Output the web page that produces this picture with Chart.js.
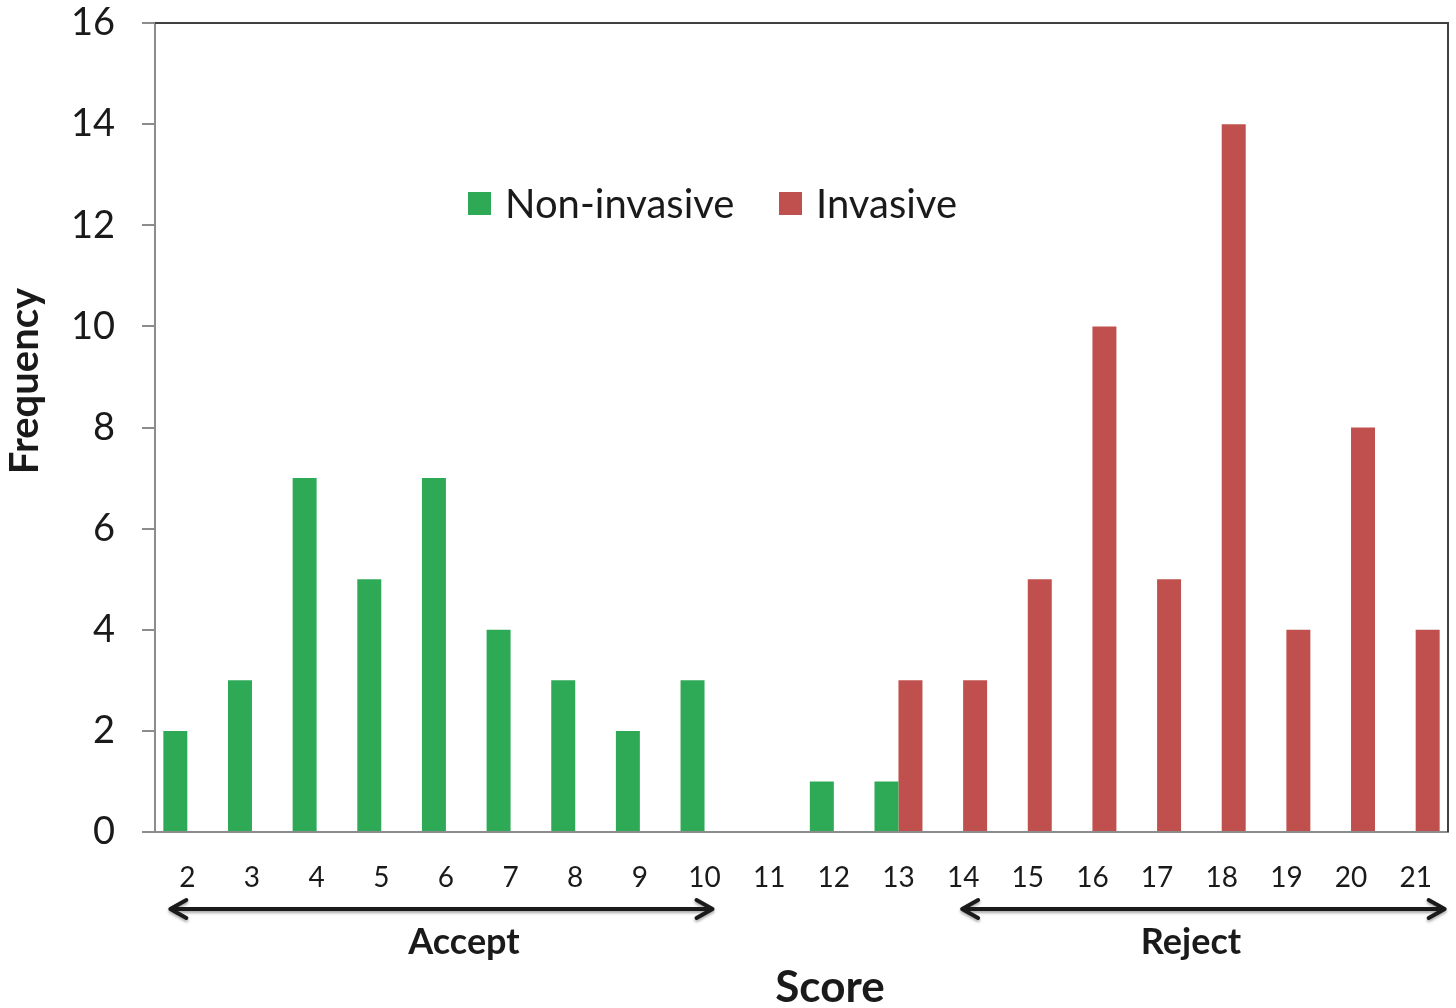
<!DOCTYPE html>
<html>
<head>
<meta charset="utf-8">
<script src="https://cdn.jsdelivr.net/npm/chart.js@4/dist/chart.umd.min.js"></script>
<style>
  html, body { margin: 0; padding: 0; background: #fff; }
  #wrap { width: 1456px; height: 1008px; }
</style>
</head>
<body>
<div id="wrap"><canvas id="c" width="1456" height="1008"></canvas></div>
<script>
const scores = ['2', '3', '4', '5', '6', '7', '8', '9', '10', '11', '12', '13', '14', '15', '16', '17', '18', '19', '20', '21'];
const nonInvasive = [2, 3, 7, 5, 7, 4, 3, 2, 3, 0, 1, 1, 0, 0, 0, 0, 0, 0, 0, 0];
const invasive = [0, 0, 0, 0, 0, 0, 0, 0, 0, 0, 0, 3, 3, 5, 10, 5, 14, 4, 8, 4];
const yTicks = [0, 2, 4, 6, 8, 10, 12, 14, 16];

const green = '#2eaa57';
const red = '#c0504d';
const fontFam = 'Lato, "Open Sans", sans-serif';

// arrows, region labels, legend and axis titles
const extras = {
    id: 'extras',
    afterDraw(chart) {
        const ctx = chart.ctx;
        const x = chart.scales.x;
        const area = chart.chartArea;
        ctx.save();

        // dark frame on top and right
        ctx.strokeStyle = '#404040';
        ctx.lineWidth = 2;
        ctx.beginPath();
        ctx.moveTo(area.left, area.top);
        ctx.lineTo(area.right, area.top);
        ctx.lineTo(area.right, area.bottom);
        ctx.stroke();

        function arrow(x1, x2, y) {
            ctx.save();
            ctx.shadowColor = 'rgba(0,0,0,0.35)';
            ctx.shadowOffsetY = 2;
            ctx.shadowBlur = 3;
            ctx.strokeStyle = '#1a1a1a';
            ctx.lineWidth = 4;
            ctx.lineCap = 'round';
            ctx.lineJoin = 'round';
            ctx.beginPath();
            ctx.moveTo(x1, y);
            ctx.lineTo(x2, y);
            ctx.moveTo(x1 + 16, y - 9);
            ctx.lineTo(x1, y);
            ctx.lineTo(x1 + 16, y + 9);
            ctx.moveTo(x2 - 16, y - 9);
            ctx.lineTo(x2, y);
            ctx.lineTo(x2 - 16, y + 9);
            ctx.stroke();
            ctx.restore();
        }
        const arrowY = 909;
        arrow(x.getPixelForValue(0) - 17, x.getPixelForValue(8) + 8, arrowY);
        arrow(x.getPixelForValue(12) - 1, x.getPixelForValue(19) + 29, arrowY);

        ctx.fillStyle = '#1a1a1a';
        ctx.textAlign = 'center';
        ctx.textBaseline = 'middle';
        ctx.font = 'bold 36px ' + fontFam;
        ctx.fillText('Accept', 464, 942);
        ctx.fillText('Reject', 1191, 942);

        ctx.font = 'bold 44px ' + fontFam;
        ctx.fillText('Score', 830, 988);

        ctx.save();
        ctx.translate(25, 381);
        ctx.rotate(-Math.PI / 2);
        ctx.font = 'bold 40px ' + fontFam;
        ctx.fillText('Frequency', 0, 0);
        ctx.restore();

        // legend
        ctx.textAlign = 'left';
        ctx.font = '40px ' + fontFam;
        let lx = 468;
        const ly = 204;
        chart.data.datasets.forEach(ds => {
            ctx.fillStyle = ds.backgroundColor;
            ctx.fillRect(lx, ly - 12, 23, 23);
            ctx.fillStyle = '#1a1a1a';
            ctx.fillText(ds.label, lx + 37, ly + 1);
            lx += 311;
        });
        ctx.restore();
    }
};

new Chart(document.getElementById('c'), {
    type: 'bar',
    data: {
        labels: scores,
        datasets: [
            { label: 'Non-invasive', data: nonInvasive, backgroundColor: green },
            { label: 'Invasive', data: invasive, backgroundColor: red }
        ]
    },
    options: {
        responsive: false,
        animation: false,
        categoryPercentage: 0.742,
        barPercentage: 1,
        layout: { padding: { left: 0, top: 0, right: 8, bottom: 0 } },
        plugins: {
            legend: { display: false },
            tooltip: { enabled: false }
        },
        scales: {
            x: {
                grid: { display: false },
                border: { display: true, color: '#8c8c8c', width: 2 },
                ticks: {
                    color: '#1a1a1a',
                    font: { family: fontFam, size: 28 },
                    padding: 21,
                    maxRotation: 0,
                    autoSkip: false
                },
                afterFit: s => { s.height = 176; }
            },
            y: {
                min: 0,
                max: 16,
                afterBuildTicks: s => { s.ticks = yTicks.map(v => ({ value: v })); },
                grid: {
                    drawOnChartArea: false,
                    tickLength: 13,
                    color: '#8c8c8c',
                    lineWidth: 2
                },
                border: { color: '#8c8c8c', width: 2 },
                ticks: {
                    color: '#1a1a1a',
                    font: { family: fontFam, size: 38 },
                    padding: 27
                },
                afterFit: s => { s.width = 155; s.paddingTop = 23; s.paddingBottom = 0; }
            }
        }
    },
    plugins: [extras]
});
</script>
</body>
</html>
